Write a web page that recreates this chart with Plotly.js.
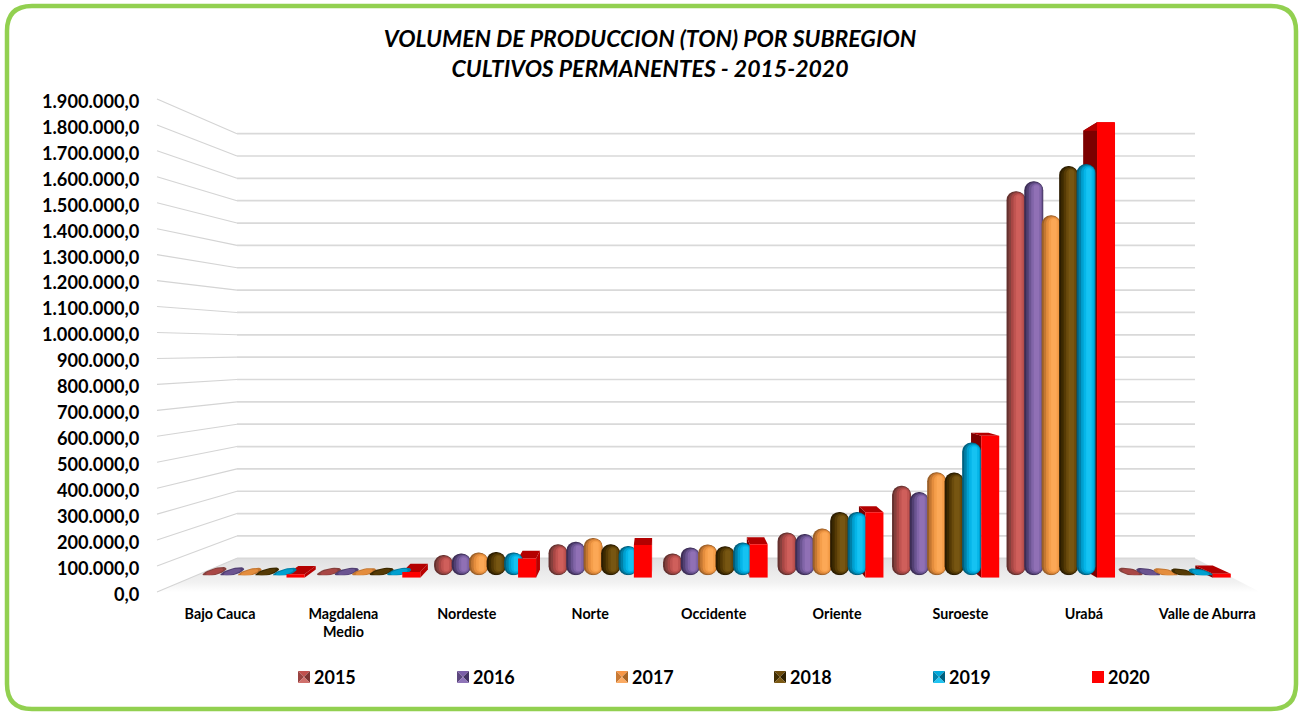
<!DOCTYPE html>
<html><head><meta charset="utf-8">
<script src="https://cdn.plot.ly/plotly-3.0.1.min.js"></script>
<style>html,body{margin:0;padding:0;background:#fff}#c{width:1302px;height:712px}</style>
</head><body><div id="c"></div>
<script>
const categories=["Bajo Cauca","Magdalena<br>Medio","Nordeste","Norte","Occidente","Oriente","Suroeste","Urabá","Valle de Aburra"];
const years=["2015","2016","2017","2018","2019","2020"];
const v2015=[14000,13000,83000,128000,90000,177000,370000,1590000,13000];
const v2016=[13000,13000,90000,138000,115000,170000,344000,1631000,12000];
const v2017=[11000,12000,94000,154000,127000,193000,426000,1490000,11000];
const v2018=[12000,13000,96000,128000,120000,262000,425000,1694000,10000];
const v2019=[11000,13000,94000,121000,135000,262000,549000,1702000,10000];
const v2020=[15000,24000,79000,134000,137000,268000,581000,1864000,17000];
const cylinderSeries=[v2015,v2016,v2017,v2018,v2019];
const tickValues=[];for(let t=0;t<=1900000;t+=100000)tickValues.push(t);
const shades=[
 ["#64302e","#86403d","#a84745","#c05451","#cf5f5b"],
 ["#3c2d55","#524073","#6b5491","#8165a8","#9070b5"],
 ["#9a5f28","#c47732","#e48d3d","#f59e4a","#fca856"],
 ["#2b1c00","#3d2a01","#553a05","#6a4b0c","#775612"],
 ["#00607f","#007fa6","#00a0d0","#05b5e8","#15c2f2"]];
const legendColors=[["#c0504d","#7d3533","#9a4341","#d0706c"],["#7b5ea7","#443263","#5d477f","#8f74b8"],["#f79646","#a86526","#c97a34","#fbaa62"],["#6b4a0a","#2e1f00","#412d02","#7c5a14"],["#00a9dc","#005f7e","#0084ad","#20c4f2"]];

const W=1302,H=712,DOMAIN_MAX=1900000;
const lerp=(a,b,t)=>a+(b-a)*t;
function plane(d){return{l:lerp(157,237,d),r:lerp(1260,1195,d),y0:lerp(592,558.3,d),s:lerp(25.95,22.35,d)/100000};}
function proj(u,v,d){const p=plane(d);return[lerp(p.l,p.r,u),p.y0-p.s*v];}
function axesFor(d,vis){const p=plane(d);return{
 x:{domain:[p.l/W,p.r/W],range:[-0.5,8.5],visible:!!vis,fixedrange:true},
 y:{domain:[1-p.y0/H,1-(p.y0-p.s*DOMAIN_MAX)/H],range:[0,DOMAIN_MAX],visible:!!vis,fixedrange:true}};}
const traces=[];
const pf=plane(0),pb=plane(1);
traces.push({type:'scatter',mode:'lines',x:[pf.l,pb.l,pb.r,pf.r,pf.l],y:[pf.y0,pb.y0,pb.y0,pf.y0,pf.y0],fill:'toself',
 fillgradient:{type:'vertical',colorscale:[[0,'#ffffff'],[0.3,'#f1f1f1'],[1,'#e0e0e1']]},line:{width:0},hoverinfo:'skip',xaxis:'x',yaxis:'y'});
const gxL=[],gyL=[],gxB=[],gyB=[];
tickValues.forEach(t=>{const a=proj(0,t,0),b=proj(0,t,1),c=proj(1,t,1);gxL.push(a[0],b[0],null);gyL.push(a[1],b[1],null);gxB.push(b[0],c[0],null);gyB.push(b[1],c[1],null);});
traces.push({type:'scatter',mode:'lines',x:gxL,y:gyL,line:{color:'#d4d4d4',width:1.1},hoverinfo:'skip',xaxis:'x',yaxis:'y'});
traces.push({type:'scatter',mode:'lines',x:gxB,y:gyB,line:{color:'#d9d9d9',width:1.7},hoverinfo:'skip',xaxis:'x',yaxis:'y'});
const catIdx=categories.map((_,i)=>i);
traces.push({type:'scatter',mode:'markers',x:catIdx,y:catIdx.map(()=>0),marker:{opacity:0},hoverinfo:'skip',xaxis:'x2',yaxis:'y2'});
/* box 2020: side and top faces sit behind the cylinders */
const dB=0.42,dBack=0.67,pB=plane(dB),catB=(pB.r-pB.l)/9,boxW=18,boxOff=47;
v2020.forEach((v,i)=>{
 const cx=pB.l+catB*(i+0.5)+boxOff,ul=((cx-boxW/2)-pB.l)/(pB.r-pB.l),ur=((cx+boxW/2)-pB.l)/(pB.r-pB.l);
 const shift=u=>-33*(u-0.45);
 const back=(u,val)=>{const p=proj(u,val,dBack),f=proj(u,val,dB);return[f[0]+shift(u),p[1]];};
 const fl=proj(ul,v,dB),fr=proj(ur,v,dB),bl=back(ul,v),br=back(ur,v),
       fl0=proj(ul,0,dB),fr0=proj(ur,0,dB),bl0=back(ul,0),br0=back(ur,0);
 const poly=(pts,col)=>traces.push({type:'scatter',mode:'lines',x:pts.map(p=>p[0]).concat(pts[0][0]),y:pts.map(p=>p[1]).concat(pts[0][1]),fill:'toself',fillcolor:col,line:{width:0},hoverinfo:'skip',xaxis:'x',yaxis:'y'});
 if(br[0]>fr[0])poly([fr,br,br0,fr0],'#b80000');
 if(bl[0]<fl[0])poly([fl,bl,bl0,fl0],'#7c0000');
 poly([fl,fr,br,bl],'#b40000');
});
/* cylinders */
const dC=0.5,pC=plane(dC),catPx=(pC.r-pC.l)/9,cw=19,offs=[-39.7,-22,-4.6,12.9,30.4],TINY=40000;
const layers=[[0,0],[2,0.5],[4.5,1],[7,2],[9.5,4]];
cylinderSeries.forEach((vals,si)=>{
 layers.forEach((L,li)=>{
  const inset=(L[0]+L[1])*0.3/pC.s;
  const xs=[],ys=[],bs=[];
  vals.forEach((v,i)=>{
   if(v<TINY)return;
   xs.push(i);ys.push(v-2*inset);bs.push(inset);
  });
  traces.push({type:'bar',name:years[si],x:xs,y:ys,base:bs,width:(cw-L[0]-L[1])/catPx,offset:(offs[si]-cw/2+L[0])/catPx,
   marker:{color:shades[si][li],cornerradius:'50%',line:{width:0}},hoverinfo:'skip',xaxis:'x3',yaxis:'y3',cliponaxis:false});
 });
 vals.forEach((v,i)=>{
  if(v>=TINY)return;
  const a=12/catPx,b=3.6/(pC.s),u=(i+0.5)/9,sh=(0.55-u)*0.52/pC.s*catPx;
  [[1,shades[si][1]],[0.72,shades[si][2]]].forEach(q=>{
   const ex=[],ey=[];
   for(let k=0;k<=28;k++){const t=k/28*2*Math.PI,c=Math.cos(t),sn=Math.sin(t);
    ex.push(i+offs[si]/catPx+a*q[0]*c);
    ey.push(v+b*q[0]*sn+sh*a*q[0]*c);}
   traces.push({type:'scatter',mode:'lines',x:ex,y:ey,fill:'toself',fillcolor:q[1],line:{width:0},hoverinfo:'skip',xaxis:'x3',yaxis:'y3',cliponaxis:false});
  });
 });
});
traces.push({type:'bar',name:years[5],x:catIdx,y:v2020,width:boxW/catB,offset:(boxOff-boxW/2)/catB,marker:{color:'#ff0000',line:{width:0}},hoverinfo:'skip',xaxis:'x4',yaxis:'y4'});
/* legend */
const annotations=[];
const lx=[298,457,616,774,933,1092],ly=677,hs=6;
years.forEach((yr,si)=>{
 const cx=lx[si]+hs;
 annotations.push({text:'<b>'+yr+'</b>',x:lx[si]+14,y:ly,xref:'x',yref:'y',xanchor:'left',yanchor:'middle',showarrow:false,font:{family:'Lato',size:18,color:'#000'}});
 if(si===5){traces.push({type:'scatter',mode:'lines',x:[cx-hs,cx+hs,cx+hs,cx-hs,cx-hs],y:[ly-hs,ly-hs,ly+hs,ly+hs,ly-hs],fill:'toself',fillcolor:'#ff0000',line:{width:0},hoverinfo:'skip',xaxis:'x',yaxis:'y'});return;}
 const c=legendColors[si];
 [[[cx-hs,ly-hs],[cx+hs,ly-hs],c[0]],[[cx+hs,ly-hs],[cx+hs,ly+hs],c[1]],[[cx-hs,ly-hs],[cx-hs,ly+hs],c[2]],[[cx-hs,ly+hs],[cx+hs,ly+hs],c[3]]].forEach(t=>{
  traces.push({type:'scatter',mode:'lines',x:[t[0][0],t[1][0],cx,t[0][0]],y:[t[0][1],t[1][1],ly,t[0][1]],fill:'toself',fillcolor:t[2],line:{width:0},hoverinfo:'skip',xaxis:'x',yaxis:'y'});
 });
});
const A2=axesFor(0,true),A3=axesFor(dC),A4=axesFor(dB);
const labelShift=2.5;
A2.x.domain=[158.3/W,1269/W];
A2.y.domain=A2.y.domain.map(f=>f-labelShift/H);
const helperX={domain:[0,1],range:[0,W],visible:false,fixedrange:true},helperY={domain:[0,1],range:[H,0],visible:false,fixedrange:true};
const r=25,bx0=7,bx1=1296,by0=6,by1=709;
const layout={width:W,height:H,margin:{l:0,r:0,t:0,b:0},paper_bgcolor:'#fff',plot_bgcolor:'rgba(0,0,0,0)',showlegend:false,barmode:'overlay',separators:',.',
 title:{text:'<b><i>VOLUMEN DE PRODUCCION (TON) POR SUBREGION<br>CULTIVOS PERMANENTES - 2015-2020</i></b>',x:650/W,xanchor:'center',xref:'paper',y:1-47/H,yref:'paper',yanchor:'top',font:{family:'Lato',size:23,color:'#000'}},
 xaxis:helperX,yaxis:helperY,
 xaxis2:Object.assign(A2.x,{anchor:'y2',showgrid:false,zeroline:false,showline:false,tickmode:'array',tickvals:catIdx,ticktext:categories,ticks:'',ticklabelstandoff:9,tickangle:0,tickfont:{family:'Lato',size:14.3,color:'#000',weight:700}}),
 yaxis2:Object.assign(A2.y,{anchor:'x2',showgrid:false,zeroline:false,showline:false,tickmode:'array',tickvals:tickValues,tickformat:',.1f',ticks:'',ticklabelstandoff:18,tickfont:{family:'Lato',size:18.2,color:'#000',weight:700}}),
 xaxis3:Object.assign(A3.x,{anchor:'y3'}),yaxis3:Object.assign(A3.y,{anchor:'x3'}),
 xaxis4:Object.assign(A4.x,{anchor:'y4'}),yaxis4:Object.assign(A4.y,{anchor:'x4'}),
 annotations:annotations,
 shapes:[{type:'path',xref:'x',yref:'y',layer:'below',line:{color:'#92d050',width:4.5},fillcolor:'rgba(0,0,0,0)',
  path:`M${bx0+r},${by0}L${bx1-r},${by0}Q${bx1},${by0} ${bx1},${by0+r}L${bx1},${by1-r}Q${bx1},${by1} ${bx1-r},${by1}L${bx0+r},${by1}Q${bx0},${by1} ${bx0},${by1-r}L${bx0},${by0+r}Q${bx0},${by0} ${bx0+r},${by0}Z`}]
};
Plotly.newPlot('c',traces,layout,{displayModeBar:false,staticPlot:true});
</script></body></html>
